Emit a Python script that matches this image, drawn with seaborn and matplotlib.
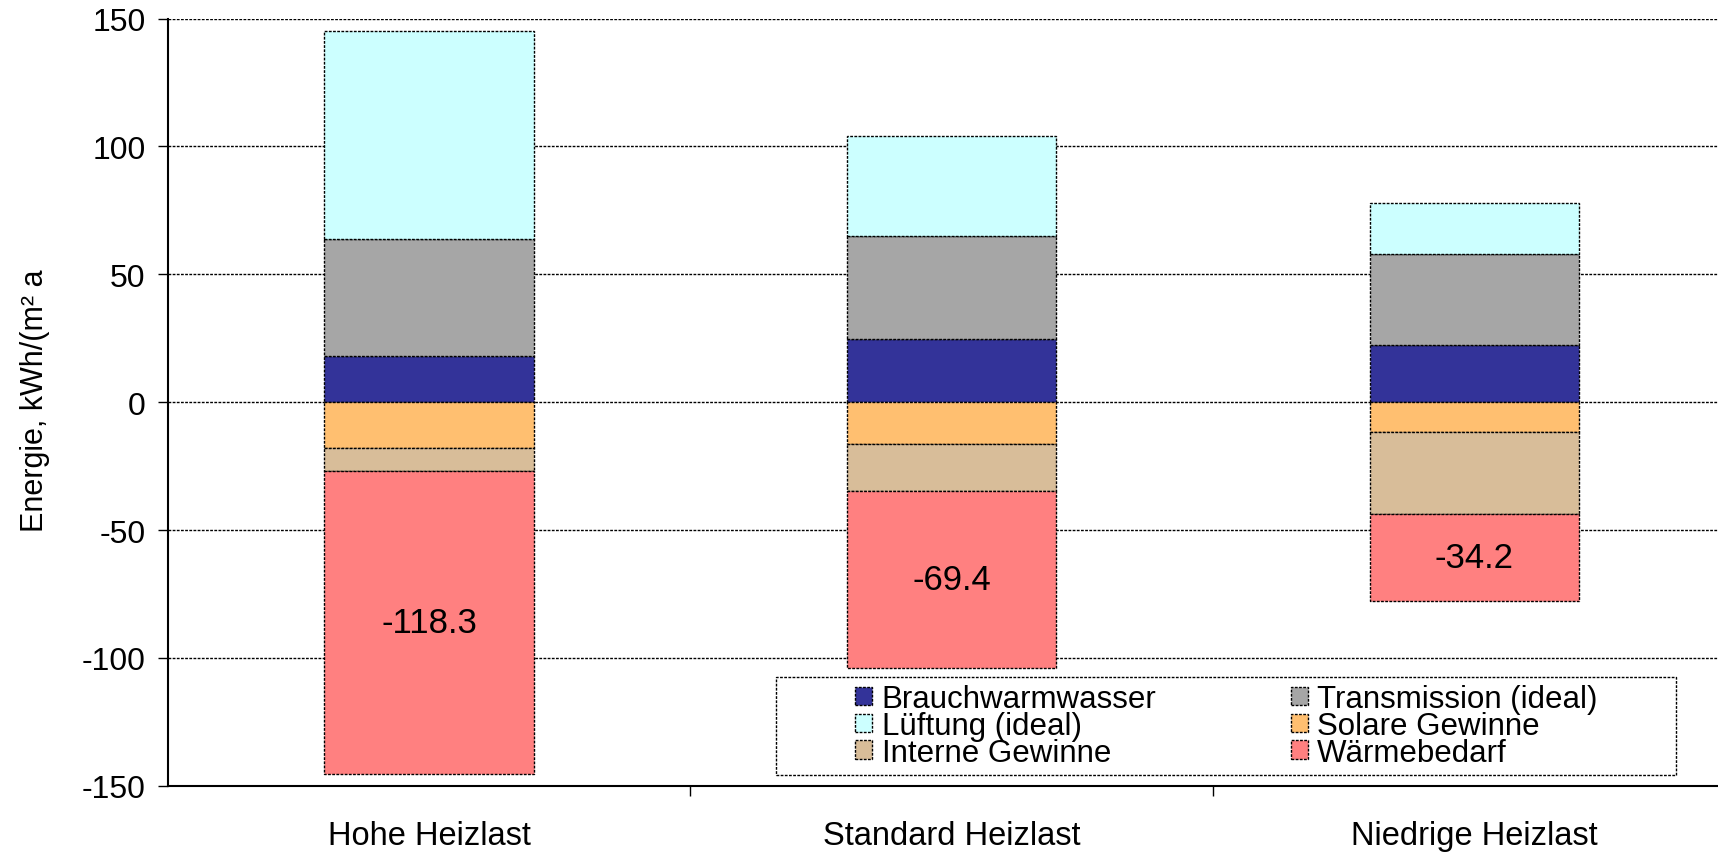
import matplotlib
matplotlib.use("Agg")
import matplotlib.pyplot as plt
from matplotlib.patches import Rectangle
import seaborn as sns
import numpy as np
import pandas as pd

sns.set_theme(style="white")
plt.rcParams["font.family"] = ["Liberation Sans", "DejaVu Sans"]
plt.rcParams["text.color"] = "black"
plt.rcParams["axes.labelcolor"] = "black"
plt.rcParams["xtick.color"] = "black"
plt.rcParams["ytick.color"] = "black"

categories = ["Hohe Heizlast", "Standard Heizlast", "Niedrige Heizlast"]

# gains above zero (stacked upwards)
brauchwarmwasser = [18.0, 24.9, 22.3]
transmission = [46.0, 40.2, 35.6]
lueftung = [81.3, 39.0, 20.0]
# contributions below zero (stacked downwards)
solare_gewinne = [-18.0, -16.5, -11.6]
interne_gewinne = [-9.0, -18.2, -32.1]
waermebedarf = [-118.3, -69.4, -34.2]

yticks = [-150, -100, -50, 0, 50, 100, 150]
ylabel = "Energie, kWh/(m\u00b2 a"

series = [
    ("Brauchwarmwasser", brauchwarmwasser, "#333399"),
    ("Transmission (ideal)", transmission, "#A6A6A6"),
    ("L\u00fcftung (ideal)", lueftung, "#CCFFFF"),
    ("Solare Gewinne", solare_gewinne, "#FFBF70"),
    ("Interne Gewinne", interne_gewinne, "#D8BD99"),
    ("W\u00e4rmebedarf", waermebedarf, "#FF8080"),
]

fig = plt.figure(figsize=(17.18, 8.53), dpi=100)
ax = fig.add_axes([0.0976, 0.0777, 0.9127, 0.8993])

grid_ls = (0, (2.0, 1.0))
for y in yticks:
    ax.axhline(y, color="black", lw=1.0, ls=grid_ls, zorder=0)

edge_ls = (0, (2.0, 1.0))
pos_base = np.zeros(len(categories))
neg_base = np.zeros(len(categories))
handles = {}
for name, vals, col in series:
    vals = np.asarray(vals, dtype=float)
    base = pos_base if vals[0] >= 0 else neg_base
    df = pd.DataFrame({"cat": categories, "val": vals})
    sns.barplot(data=df, x="cat", y="val", order=categories, color=col,
                width=0.4, bottom=base.copy(), edgecolor="black",
                linewidth=1.0, linestyle=edge_ls, saturation=1, ax=ax,
                errorbar=None, zorder=2)
    if name == "W\u00e4rmebedarf":
        for i, v in enumerate(vals):
            ax.text(i, base[i] + v / 2, f"{v:.1f}", ha="center", va="center",
                    fontsize=25, zorder=4)
    base += vals
    handles[name] = Rectangle((0, 0), 1, 1, facecolor=col,
                              edgecolor="black", linewidth=1.0,
                              linestyle=edge_ls)

ax.set_xlim(-0.5, 2.5)
ax.set_ylim(-150, 150)
ax.set_yticks(yticks)
ax.set_yticklabels([str(t) for t in yticks], fontsize=23)
ax.set_xticks(range(len(categories)))
ax.set_xticklabels(categories, fontsize=23.5)
ax.set_xticks([0.5, 1.5], minor=True)
ax.tick_params(axis="x", which="major", length=0, pad=25)
ax.tick_params(axis="x", which="minor", length=7, width=1, color="black",
               direction="out", bottom=True)
ax.tick_params(axis="y", which="major", length=7, width=1, color="black",
               direction="out", left=True, pad=9)
ax.set_xlabel("")
ax.set_ylabel(ylabel, fontsize=22)
ax.yaxis.set_label_coords(-0.075, 0.503)

for side in ["top", "right"]:
    ax.spines[side].set_visible(False)
ax.spines["left"].set_color("black")
ax.spines["left"].set_linewidth(1.5)
ax.spines["bottom"].set_color("black")
ax.spines["bottom"].set_linewidth(1.5)
ax.spines["bottom"].set_linestyle(grid_ls)

# legend frame drawn as its own dashed box
box_x0, box_x1, box_y0, box_y1 = 0.3881, 0.9622, 0.0142, 0.1415
ax.add_patch(Rectangle((box_x0, box_y0), box_x1 - box_x0, box_y1 - box_y0,
                       transform=ax.transAxes, facecolor="white",
                       edgecolor="black", linewidth=1.0, linestyle=grid_ls,
                       zorder=5, clip_on=False))

order = ["Brauchwarmwasser", "L\u00fcftung (ideal)", "Interne Gewinne",
         "Transmission (ideal)", "Solare Gewinne", "W\u00e4rmebedarf"]
leg = ax.legend([handles[n] for n in order], order, ncol=2,
                loc="center",
                bbox_to_anchor=((box_x0 + box_x1) / 2, (box_y0 + box_y1) / 2),
                frameon=False, fontsize=22.5,
                handlelength=0.55, handleheight=0.55, handletextpad=0.3,
                labelspacing=-0.1, columnspacing=4.3, borderpad=0.0,
                borderaxespad=0)
leg.set_zorder(6)

fig.savefig("out.png", dpi=100)
